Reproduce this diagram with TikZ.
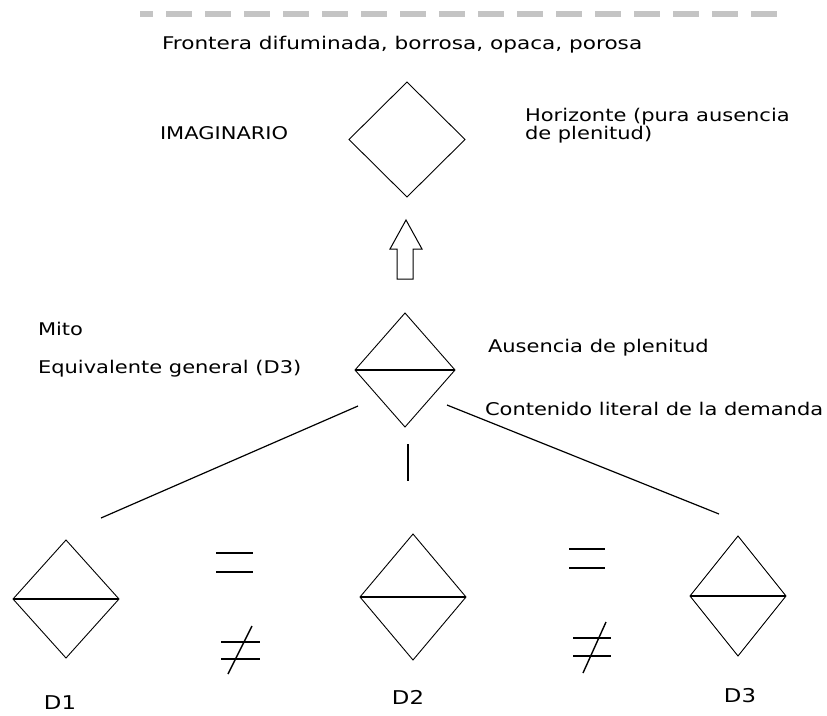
\documentclass[tikz,border=0pt]{standalone}
\usepackage{fontspec}
\setmainfont[FakeStretch=1.2]{DejaVu Sans}
\newfontfamily\widefont[FakeStretch=1.235]{DejaVu Sans}
\usetikzlibrary{shapes.geometric}
\definecolor{dashgray}{HTML}{C4C4C4}
\begin{document}
\begin{tikzpicture}[x=1pt,y=-1pt,
  lbl/.style={inner sep=0pt, outer sep=0pt, font=\fontsize{17.5}{18}\selectfont, anchor=base west, align=left},
  dlbl/.style={inner sep=0pt, outer sep=0pt, font=\fontsize{19}{20}\selectfont, anchor=base},
  dia/.style={draw, shape=diamond, inner sep=0pt, outer sep=0pt, line width=0.9pt},
  splitline/.style={line width=1.4pt},
  conn/.style={line width=1.2pt},
  sym/.style={line width=1.4pt}]
\useasboundingbox (0,0) rectangle (827,715);
% border
\draw[dashgray, line width=6pt, dash pattern=on 26pt off 13pt, dash phase=13pt] (140,14) -- (780,14);
\node[lbl, font=\widefont\fontsize{17.5}{18}\selectfont] (frontera) at (162,49) {Frontera difuminada, borrosa, opaca, porosa};
% imaginary
\node[dia, minimum width=116pt, minimum height=115pt] (imag) at (407,139.5) {};
\node[lbl] (imagtxt) at (160,139) {IMAGINARIO};
\node[lbl] (horiz) at (525,139) {Horizonte (pura ausencia\\de plenitud)};
% arrow
\draw[line width=1pt] (406,220) -- (422,249) -- (413,249) -- (413,279) -- (397,279) -- (397,249) -- (390,249) -- cycle;
% middle
\node[dia, minimum width=100pt, minimum height=114pt] (mid) at (405,370) {};
\draw[splitline] (mid.west) -- (mid.east);
\node[lbl] (mito) at (38,335) {Mito};
\node[lbl] (equiv) at (38,373) {Equivalente general (D3)};
\node[lbl] (ausencia) at (488,352) {Ausencia de plenitud};
\node[lbl] (contenido) at (485,415) {Contenido literal de la demanda};
% connectors
\coordinate (lA) at (358,406); \coordinate (lB) at (101,518);
\coordinate (vA) at (408,444); \coordinate (vB) at (408,481);
\coordinate (rA) at (447,405); \coordinate (rB) at (719,514);
\draw[conn] (lA) -- (lB);
\draw[conn] (vA) -- (vB);
\draw[conn] (rA) -- (rB);
% bottom diamonds
\node[dia, minimum width=106pt, minimum height=118pt] (d1) at (66,599) {};
\draw[splitline] (d1.west) -- (d1.east);
\node[dia, minimum width=106pt, minimum height=126pt] (d2) at (413,597) {};
\draw[splitline] (d2.west) -- (d2.east);
\node[dia, minimum width=96pt, minimum height=120pt] (d3) at (738,596) {};
\draw[splitline] (d3.west) -- (d3.east);
\node[dlbl] (d1t) at (60,709) {D1};
\node[dlbl] (d2t) at (408,704) {D2};
\node[dlbl] (d3t) at (740,702) {D3};
% equal / not equal
\draw[sym] (216,553) -- (253,553);
\draw[sym] (216,572) -- (253,572);
\draw[sym] (221,642) -- (260,642);
\draw[sym] (221,659) -- (260,659);
\draw[sym] (252,626) -- (228,674);
\draw[sym] (569,549) -- (605,549);
\draw[sym] (569,568) -- (605,568);
\draw[sym] (573,638) -- (611,638);
\draw[sym] (573,656) -- (611,656);
\draw[sym] (606,622) -- (583,673);
\end{tikzpicture}
\end{document}
